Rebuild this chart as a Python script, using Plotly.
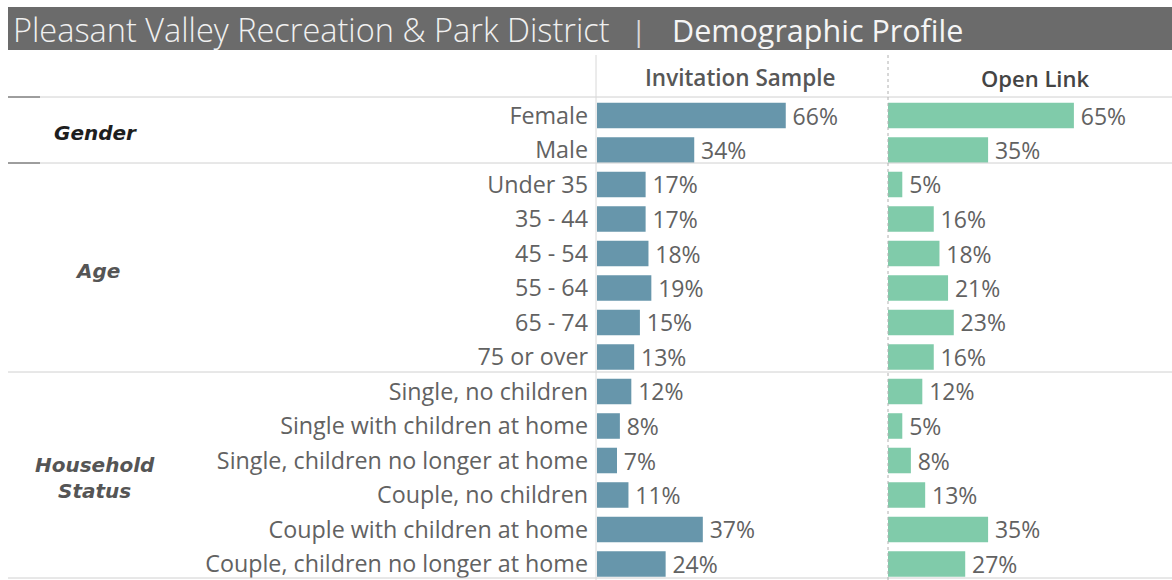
import plotly.graph_objects as go

# Survey categories, top to bottom
categories = [
    "Female", "Male",
    "Under 35", "35 - 44", "45 - 54", "55 - 64", "65 - 74", "75 or over",
    "Single, no children", "Single with children at home",
    "Single, children no longer at home", "Couple, no children",
    "Couple with children at home", "Couple, children no longer at home",
]
invitation_pct = [66, 34, 17, 17, 18, 19, 15, 13, 12, 8, 7, 11, 37, 24]
open_link_pct = [65, 35, 5, 16, 18, 21, 23, 16, 12, 5, 8, 13, 35, 27]
group_labels = ["Gender", "Age", "Household<br>Status"]
group_rows = [0.5, 4.5, 10.5]

W, H = 1172, 580
FONT = "Open Sans"
GROUP_FONT = "DejaVu Sans"
GREY_TXT = "#626262"
BLUE = "#6796ab"
GREEN = "#80cbaa"

def px(x):
    return x / W

def py(y):
    return 1 - y / H

left0, mid, right1 = 597, 888, 1172
top, bottom = 97, 580
pct_px = 2.86
row0, row_step = 115.5, 34.5

y_top = (top - row0) / row_step
y_bot = (bottom - row0) / row_step

def pct_labels(vals):
    # thin space keeps the label a few pixels clear of the bar end
    return [f"\u2009{v}%" for v in vals]

fig = go.Figure()
fig.add_trace(go.Bar(
    y=categories, x=invitation_pct, orientation="h",
    marker=dict(color=BLUE, line=dict(width=0)), width=0.74,
    text=pct_labels(invitation_pct), textposition="outside",
    textfont=dict(size=23, color=GREY_TXT, family=FONT),
    constraintext="none", cliponaxis=False,
    xaxis="x", yaxis="y", hoverinfo="skip",
))
fig.add_trace(go.Bar(
    y=categories, x=open_link_pct, orientation="h",
    marker=dict(color=GREEN, line=dict(width=0)), width=0.74,
    text=pct_labels(open_link_pct), textposition="outside",
    textfont=dict(size=23, color=GREY_TXT, family=FONT),
    constraintext="none", cliponaxis=False,
    xaxis="x2", yaxis="y2", hoverinfo="skip",
))

yaxis_common = dict(
    domain=[py(bottom), py(top)],
    range=[y_bot, y_top],
    showgrid=False, zeroline=False, showline=False,
    categoryorder="array", categoryarray=categories,
)
fig.update_layout(
    width=W, height=H,
    margin=dict(l=0, r=0, t=0, b=0),
    paper_bgcolor="white", plot_bgcolor="white",
    showlegend=False, bargap=0.2,
    font=dict(family=FONT, color=GREY_TXT),
    xaxis=dict(domain=[px(left0), px(mid)], range=[0, (mid - left0) / pct_px],
               visible=False),
    xaxis2=dict(domain=[px(mid), 1], range=[0, (right1 - mid) / pct_px],
                visible=False),
    yaxis=dict(**yaxis_common, anchor="x", ticks="", ticklabelstandoff=8,
               tickfont=dict(size=23.3, color=GREY_TXT, family=FONT)),
    yaxis2=dict(**yaxis_common, anchor="x2", showticklabels=False),
)

shapes = []
# title bar
shapes.append(dict(type="rect", xref="paper", yref="paper",
                   x0=px(8), x1=1, y0=py(50), y1=py(7),
                   fillcolor="#6b6b6b", line=dict(width=0), layer="below"))
# horizontal separators
for yy in [97, 163, 372, 578]:
    shapes.append(dict(type="line", xref="paper", yref="paper",
                       x0=px(8), x1=1, y0=py(yy), y1=py(yy),
                       line=dict(color="#d0d0d0", width=1)))
for yy in [97, 163]:
    shapes.append(dict(type="line", xref="paper", yref="paper",
                       x0=px(8), x1=px(40), y0=py(yy), y1=py(yy),
                       line=dict(color="#555555", width=1)))
# vertical dividers
shapes.append(dict(type="line", xref="paper", yref="paper",
                   x0=px(596), x1=px(596), y0=py(580), y1=py(55),
                   line=dict(color="#d8d8d8", width=1)))
shapes.append(dict(type="line", xref="paper", yref="paper",
                   x0=px(888), x1=px(888), y0=py(580), y1=py(55),
                   line=dict(color="#b0b0b0", width=1, dash="dot")))
fig.update_layout(shapes=shapes)

ann = []
ann.append(dict(text="Pleasant Valley Recreation &amp; Park District",
                x=px(11), y=py(30), xref="paper", yref="paper",
                xanchor="left", yanchor="middle", showarrow=False,
                font=dict(size=32.5, color="#f0f0f0", family=FONT, weight=300)))
ann.append(dict(text="|", x=px(638), y=py(30), xref="paper", yref="paper",
                xanchor="center", yanchor="middle", showarrow=False,
                font=dict(size=28, color="#d8d8d8", family=FONT)))
ann.append(dict(text="Demographic Profile", x=px(670), y=py(30),
                xref="paper", yref="paper", xanchor="left", yanchor="middle",
                showarrow=False,
                font=dict(size=30.5, color="#f5f5f5", family=FONT, weight=500)))
ann.append(dict(text="Invitation Sample", x=px(740), y=py(78),
                xref="paper", yref="paper", xanchor="center", yanchor="middle",
                showarrow=False,
                font=dict(size=22.5, color="#575757", family=FONT, weight=600)))
ann.append(dict(text="Open Link", x=px(1035), y=py(78),
                xref="paper", yref="paper", xanchor="center", yanchor="middle",
                showarrow=False,
                font=dict(size=22, color="#444444", family=FONT, weight=600)))
group_colors = ["#1e1e1e", "#555555", "#555555"]
group_x = [95, 97, 95]
for lbl, r, c, gx in zip(group_labels, group_rows, group_colors, group_x):
    ann.append(dict(text=f"<b><i>{lbl}</i></b>", x=px(gx),
                    y=py(row0 + r * row_step), xref="paper", yref="paper",
                    xanchor="center", yanchor="middle", showarrow=False,
                    font=dict(size=20, color=c, family=GROUP_FONT)))
fig.update_layout(annotations=ann)

fig.write_html("out.html")
